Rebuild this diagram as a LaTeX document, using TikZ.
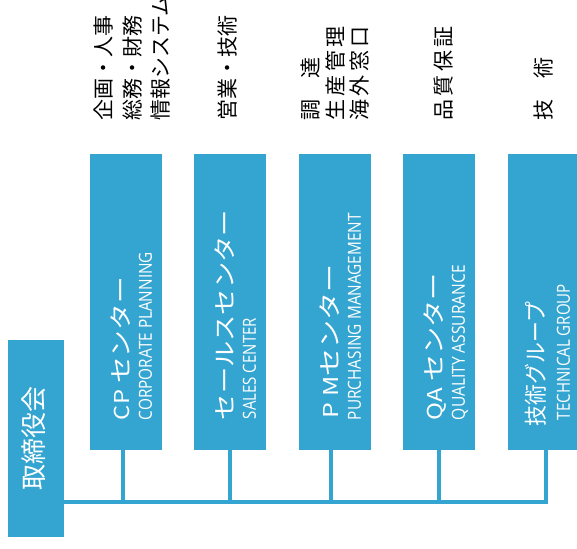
\documentclass[tikz,border=0pt]{standalone}
\usepackage{fontspec}
\setmainfont{Open Sans}
\newfontfamily\jp{Noto Sans CJK JP}
\usepackage{graphicx}
\definecolor{orgblue}{RGB}{52,165,209}
\newcommand{\fitto}[2]{\resizebox{#1}{\height}{#2}}
\newcommand{\lat}[1]{{\fontsize{20.5}{20.5}\selectfont #1}}
\newcommand{\ls}{\kern3.5pt}

\begin{document}
\begin{tikzpicture}[x=1pt,y=-1pt,
  unit/.style={fill=orgblue,inner sep=0pt,minimum width=72pt,minimum height=296pt},
  bigtxt/.style={rotate=90,anchor=base west,inner sep=0pt,text=white,font=\jp\fontsize{23}{23}\selectfont},
  smalltxt/.style={rotate=90,anchor=base west,inner sep=0pt,text=white,font=\fontsize{18}{18}\selectfont},
  dept/.style={rotate=90,anchor=base west,inner sep=0pt,font=\jp\fontsize{21}{21}\selectfont},
  wire/.style={orgblue,line width=4.6pt}]
 \useasboundingbox (0,0) rectangle (577,548);
 % board of directors
 \node[unit,minimum width=56pt,minimum height=197pt] (board) at (36,438.5) {};
 \node[rotate=90,anchor=base,inner sep=0pt,text=white,font=\jp\fontsize{26}{26}\selectfont] (boardtxt) at (43,438.5) {取締役会};
 % centres
 \node[unit] (cp) at (126,302) {};
 \node[unit] (sales) at (230,302) {};
 \node[unit] (pm) at (335,302) {};
 \node[unit] (qa) at (439,302) {};
 \node[unit] (tech) at (544,302) {};
 \node[bigtxt] (cpname) at ([xshift=40pt,yshift=30pt]cp.south west) {\fitto{143pt}{\lat{CP} センター}};
 \node[smalltxt] (cpsub) at ([xshift=62pt,yshift=30pt]cp.south west) {\fitto{168pt}{CORPORATE PLANNING}};
 \node[bigtxt] (salesname) at ([xshift=40pt,yshift=30pt]sales.south west) {\fitto{210pt}{セールスセンター}};
 \node[smalltxt] (salessub) at ([xshift=62pt,yshift=31pt]sales.south west) {\fitto{101pt}{SALES CENTER}};
 \node[bigtxt] (pmname) at ([xshift=40pt,yshift=32pt]pm.south west) {\fitto{154pt}{\lat{P M}センター}};
 \node[smalltxt] (pmsub) at ([xshift=62pt,yshift=30pt]pm.south west) {\fitto{207pt}{PURCHASING MANAGEMENT}};
 \node[bigtxt] (qaname) at ([xshift=40pt,yshift=30pt]qa.south west) {\fitto{147pt}{\lat{QA} センター}};
 \node[smalltxt] (qasub) at ([xshift=62pt,yshift=30pt]qa.south west) {\fitto{155pt}{QUALITY ASSURANCE}};
 \node[bigtxt] (techname) at ([xshift=37pt,yshift=24pt]tech.south west) {\fitto{124pt}{技術グループ}};
 \node[smalltxt] (techsub) at ([xshift=62pt,yshift=30pt]tech.south west) {\fitto{136pt}{TECHNICAL GROUP}};
 % duties above each centre
 \node[dept] (plan) at (111,121) {企画・人事};
 \node[dept] (finance) at (140,121) {総務・財務};
 \node[dept] (infosys) at (168,121) {情報システム};
 \node[dept] (sell) at (235,121) {営業・技術};
 \node[dept] (procure) at (318,121) {調　達};
 \node[dept] (prodctl) at (343,121) {生\ls 産\ls 管\ls 理};
 \node[dept] (overseas) at (367,121) {海\ls 外\ls 窓\ls 口};
 \node[dept] (quality) at (451,121) {品\ls 質\ls 保\ls 証};
 \node[dept] (engin) at (551,121) {技　術};
 % connectors
 \coordinate (jcp) at (123,502);
 \coordinate (jsales) at (230,502);
 \coordinate (jpm) at (331,502);
 \coordinate (jqa) at (439,502);
 \coordinate (jtech) at (546,502);
 \draw[wire] (board.east |- jcp) -- (jtech) -- (tech.south -| jtech);
 \draw[wire] (cp.south -| jcp) -- (jcp);
 \draw[wire] (sales.south -| jsales) -- (jsales);
 \draw[wire] (pm.south -| jpm) -- (jpm);
 \draw[wire] (qa.south -| jqa) -- (jqa);
\end{tikzpicture}
\end{document}
